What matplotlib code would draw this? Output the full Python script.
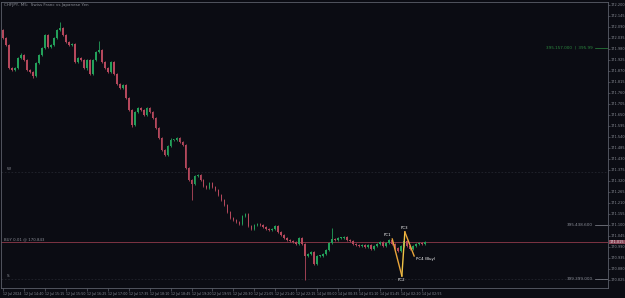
import matplotlib
matplotlib.use("Agg")
import matplotlib.pyplot as plt
import matplotlib.transforms as mtransforms
import numpy as np

# --- chart data (M5 candles) ---
first_open = 172.075
closes = [
    172.035, 172.000, 171.885, 171.875, 171.885, 171.935, 171.950, 171.925, 171.875, 171.865,
    171.845, 171.910, 171.950, 171.985, 172.050, 171.990, 172.000, 172.035, 172.075, 172.085,
    172.050, 172.015, 172.000, 172.005, 171.915, 171.935, 171.925, 171.885, 171.925, 171.855,
    171.925, 171.965, 171.975, 171.915, 171.885, 171.865, 171.915, 171.855, 171.805, 171.785,
    171.800, 171.735, 171.675, 171.600, 171.665, 171.685, 171.675, 171.650, 171.685, 171.665,
    171.635, 171.585, 171.535, 171.475, 171.450, 171.495, 171.525, 171.525, 171.535, 171.515,
    171.500, 171.385, 171.325, 171.305, 171.345, 171.350, 171.325, 171.295, 171.285, 171.310,
    171.290, 171.275, 171.250, 171.225, 171.200, 171.165, 171.135, 171.125, 171.115, 171.105,
    171.145, 171.155, 171.095, 171.080, 171.100, 171.105, 171.100, 171.090, 171.080, 171.075,
    171.080, 171.095, 171.065, 171.050, 171.035, 171.025, 171.020, 171.015, 171.005, 171.035,
    171.005, 170.945, 170.955, 170.965, 170.905, 170.945, 170.945, 170.955, 170.975, 171.010,
    171.030, 171.025, 171.035, 171.035, 171.040, 171.025, 171.020, 171.005, 171.000, 170.995,
    171.000, 170.990, 171.000, 170.980, 170.995, 171.005, 171.015, 170.995, 171.010, 171.025,
    171.005, 170.985, 170.970, 170.995, 171.020, 170.995, 170.980, 170.995, 171.005, 171.010,
    171.005, 171.015,
]
# wick lengths in points (0.001)
upper_wick = [
    5, 4, 6, 3, 5, 4, 8, 3, 5, 4, 3, 6, 4, 5, 6, 4, 5, 6, 4, 30,
    5, 4, 6, 3, 5, 4, 6, 3, 5, 4, 6, 5, 45, 6, 3, 5, 4, 6, 3, 4,
    5, 6, 4, 3, 6, 5, 4, 5, 6, 4, 3, 5, 4, 6, 4, 5, 8, 4, 6, 5,
    4, 6, 5, 4, 3, 5, 4, 6, 5, 4, 3, 5, 4, 6, 5, 4, 3, 5, 4, 6,
    5, 4, 3, 5, 4, 6, 5, 4, 3, 5, 4, 6, 5, 4, 3, 5, 4, 6, 5, 4,
    3, 5, 4, 6, 5, 4, 3, 5, 4, 6, 55, 5, 4, 3, 5, 4, 6, 5, 4, 3,
    5, 4, 6, 5, 4, 3, 5, 4, 6, 5, 4, 3, 5, 4, 6, 5, 4, 3, 5, 4,
    4, 3,
]
lower_wick = [
    4, 5, 6, 4, 5, 3, 4, 6, 5, 4, 8, 5, 4, 3, 5, 4, 6, 5, 4, 3,
    4, 5, 4, 6, 5, 4, 6, 5, 8, 4, 5, 4, 6, 3, 5, 4, 6, 5, 4, 3,
    4, 5, 6, 10, 5, 4, 3, 5, 4, 6, 5, 4, 3, 5, 6, 4, 5, 4, 3, 5,
    4, 6, 5, 80, 3, 5, 4, 6, 5, 4, 3, 5, 4, 6, 5, 4, 3, 5, 4, 6,
    5, 4, 3, 5, 4, 6, 5, 4, 3, 5, 4, 6, 5, 4, 3, 5, 4, 6, 5, 4,
    3, 120, 4, 6, 5, 4, 3, 5, 4, 6, 5, 5, 4, 3, 5, 4, 6, 5, 4, 3,
    5, 4, 6, 5, 4, 3, 5, 4, 6, 5, 4, 3, 5, 4, 6, 5, 4, 3, 5, 4,
    4, 3,
]

time_labels = [
    "12 Jul 2024", "12 Jul 14:40", "12 Jul 15:15", "12 Jul 15:50", "12 Jul 16:25",
    "12 Jul 17:00", "12 Jul 17:35", "12 Jul 18:10", "12 Jul 18:45", "12 Jul 19:20",
    "12 Jul 19:55", "12 Jul 20:30", "12 Jul 21:05", "12 Jul 21:40", "12 Jul 22:15",
    "14 Jul 00:00", "14 Jul 00:35", "14 Jul 01:10", "14 Jul 01:45", "14 Jul 02:20",
    "14 Jul 02:55",
]
time_tick_step = 7

price_ticks = [172.200 - 0.055 * k for k in range(26)]

# harmonic pattern points (candle index, price)
pc_names = ["PC1", "PC2", "PC3", "PC4 (Buy)"]
pc_x = [130.0, 133.2, 134.2, 137.3]
pc_y = [171.030, 170.845, 171.065, 170.945]

bid_price = 171.015
level_w = 171.365
level_s = 170.830
tp_level = 171.985
mid_level = 171.100

# --- style ---
BG = "#0b0c13"
BULL = "#23a05a"
BEAR = "#b5485c"
AXC = "#5c5f6a"
TXT = "#8a8d96"

fig = plt.figure(figsize=(6.25, 2.98), dpi=100, facecolor=BG)
ax = fig.add_axes([0.002, 0.0336, 0.9708, 0.9597], facecolor=BG)

n = len(closes)
opens = [first_open] + closes[:-1]
idx = np.arange(n)
o = np.array(opens)
c = np.array(closes)
hi = np.maximum(o, c) + np.array(upper_wick[:n]) / 1000.0
lo = np.minimum(o, c) - np.array(lower_wick[:n]) / 1000.0
up = c >= o
cols = np.where(up, BULL, BEAR)

ax.vlines(idx, lo, hi, colors=cols, linewidth=0.6, zorder=2)
body_h = np.abs(c - o)
body_h = np.where(body_h < 0.003, 0.003, body_h)
ax.bar(idx, body_h, bottom=np.minimum(o, c), width=0.62, color=cols,
       linewidth=0, zorder=3)

# horizontal levels
ax.axhline(bid_price, color="#7d3443", linewidth=0.7, zorder=1)
ax.axhline(level_w, color="#23262f", linewidth=0.6, linestyle=(0, (2, 2)), zorder=1)
ax.axhline(level_s, color="#23262f", linewidth=0.6, linestyle=(0, (2, 2)), zorder=1)

ax.text(1.5, level_w + 0.004, "W", color=TXT, fontsize=3, va="bottom")
ax.text(1.5, level_s + 0.004, "S", color=TXT, fontsize=3, va="bottom")
ax.text(0.5, bid_price + 0.004, "BUY 0.01 @ 170.843", color=TXT, fontsize=2.8,
        va="bottom")

# right-side trade labels
ax.text(197, tp_level, "395.157.000  |  395.99", color="#2c8a40", fontsize=3,
        ha="right", va="center")
ax.plot([197.5, 202], [tp_level, tp_level], color="#2c8a40", linewidth=0.5)
ax.text(197, mid_level, "395.438.600", color=TXT, fontsize=3, ha="right", va="center")
ax.plot([197.5, 202], [mid_level, mid_level], color=TXT, linewidth=0.5)
ax.text(197, level_s, "399.399.000", color=TXT, fontsize=3, ha="right", va="center")
ax.plot([197.5, 202], [level_s, level_s], color=TXT, linewidth=0.5)

# harmonic zigzag
seg_cols = ["#e9a53a", "#f2c447", "#e9a53a"]
for k in range(3):
    ax.plot(pc_x[k:k + 2], pc_y[k:k + 2], color=seg_cols[k], linewidth=1.0, zorder=5)
offsets = [(-0.5, 0.012, "right", "bottom"), (0, -0.012, "center", "top"),
           (0, 0.010, "center", "bottom"), (0.6, -0.004, "left", "top")]
for name, x, y, (dx, dy, ha, va) in zip(pc_names, pc_x, pc_y, offsets):
    ax.text(x + dx, y + dy, name, color="white", fontsize=2.8, ha=ha, va=va, zorder=6)

# header
ax.text(0.004, 0.995, "CHFJPY, M5:  Swiss Franc vs Japanese Yen", transform=ax.transAxes,
        color=TXT, fontsize=3, ha="left", va="top")

ax.set_xlim(-0.5, 202)
ax.set_ylim(170.785, 172.215)

# price axis on the right
ax.yaxis.tick_right()
ax.set_yticks(price_ticks)
ax.set_yticklabels(["%.3f" % p for p in price_ticks])
ax.tick_params(axis="y", colors=AXC, labelcolor=TXT, labelsize=2.5, length=1.5,
               width=0.5, pad=0.6)

# time axis
tpos = [k * time_tick_step for k in range(len(time_labels))]
ax.set_xticks(tpos)
ax.set_xticklabels(time_labels, ha="left")
ax.tick_params(axis="x", colors=AXC, labelcolor=TXT, labelsize=2.3, length=2,
               width=0.5, pad=1)

for s in ax.spines.values():
    s.set_color(AXC)
    s.set_linewidth(0.6)

# current price box
trans = mtransforms.blended_transform_factory(ax.transAxes, ax.transData)
ax.text(1.003, bid_price, "%.3f" % bid_price, transform=trans, color="#e8e0e4",
        fontsize=2.5, va="center", ha="left",
        bbox=dict(boxstyle="square,pad=0.1", facecolor="#8a4657", edgecolor="none"))

fig.savefig("out.png", dpi=100, facecolor=BG)
